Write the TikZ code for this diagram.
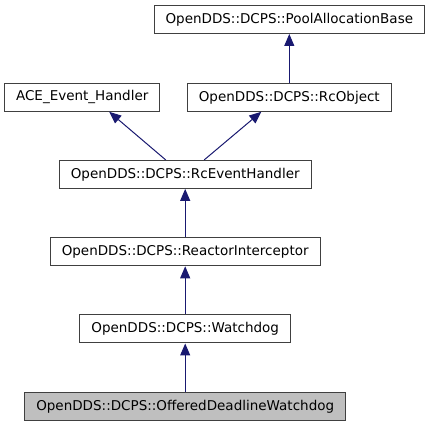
\documentclass[tikz,border=0pt]{standalone}
\usepackage{fontspec}
\setmainfont{DejaVu Sans}
\usetikzlibrary{arrows.meta}
\definecolor{edgeblue}{HTML}{191970}
\definecolor{boxline}{HTML}{404040}

\begin{document}
\begin{tikzpicture}[x=1pt,y=-1pt,
    cls/.style={draw=boxline, line width=1pt, inner xsep=11.5pt, minimum height=28pt,
      font=\fontsize{13.5}{16}\selectfont},
    inh/.style={draw=edgeblue, line width=1pt, -{Triangle[length=12pt,width=10pt]}}]
    \useasboundingbox (0,0) rectangle (431,427);
    \node[cls] (pab) at (289.3,19.5) {OpenDDS::DCPS::PoolAllocationBase};
    \node[cls] (aeh) at (82.2,97.3) {ACE\_Event\_Handler};
    \node[cls] (rco) at (289.3,97.3) {OpenDDS::DCPS::RcObject};
    \node[cls] (reh) at (185.2,174.4) {OpenDDS::DCPS::RcEventHandler};
    \node[cls] (ri) at (185.2,251.8) {OpenDDS::DCPS::ReactorInterceptor};
    \node[cls] (wd) at (185.2,329) {OpenDDS::DCPS::Watchdog};
    \node[cls, fill=black!25] (odw) at (185.2,406.5) {OpenDDS::DCPS::OfferedDeadlineWatchdog};

    \draw[inh] (rco) -- (pab);
    \draw[inh] ([xshift=-19.5pt]reh.north) -- ([xshift=27pt]aeh.south);
    \draw[inh] ([xshift=19pt]reh.north) -- ([xshift=-28pt]rco.south);
    \draw[inh] (ri) -- (reh);
    \draw[inh] (wd) -- (ri);
    \draw[inh] (odw) -- (wd);
\end{tikzpicture}
\end{document}
